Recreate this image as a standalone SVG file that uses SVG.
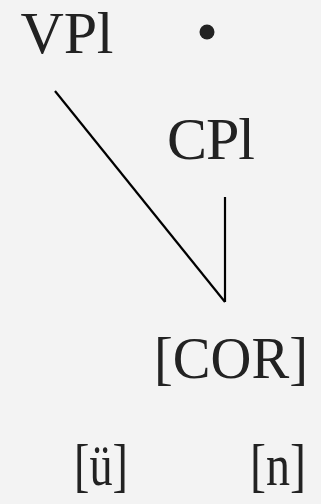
<svg xmlns="http://www.w3.org/2000/svg" width="321" height="504" viewBox="0 0 321 504">
<style>
text{font-family:"Liberation Serif","DejaVu Serif",serif;font-size:60px;fill:#222;}
.c{stroke:#000;stroke-width:2.2;fill:none;}
</style>
<rect width="321" height="504" fill="#f3f3f3"/>
<g id="connectors">
<line class="c" x1="55" y1="91" x2="225" y2="302"/>
<line class="c" x1="225" y1="197" x2="225" y2="302"/>
</g>
<g id="vpl"><text x="67" y="53" text-anchor="middle" textLength="93">VPl</text></g>
<g id="dot"><circle cx="207" cy="32" r="7.5" fill="#222"/></g>
<g id="cpl"><text x="211" y="159" text-anchor="middle" textLength="88">CPl</text></g>
<g id="cor"><text x="231" y="378" text-anchor="middle" textLength="154" lengthAdjust="spacingAndGlyphs">[COR]</text></g>
<g id="u"><text x="101" y="485" text-anchor="middle" textLength="54" lengthAdjust="spacingAndGlyphs">[ü]</text></g>
<g id="n"><text x="278" y="485" text-anchor="middle" textLength="56" lengthAdjust="spacingAndGlyphs">[n]</text></g>
</svg>
